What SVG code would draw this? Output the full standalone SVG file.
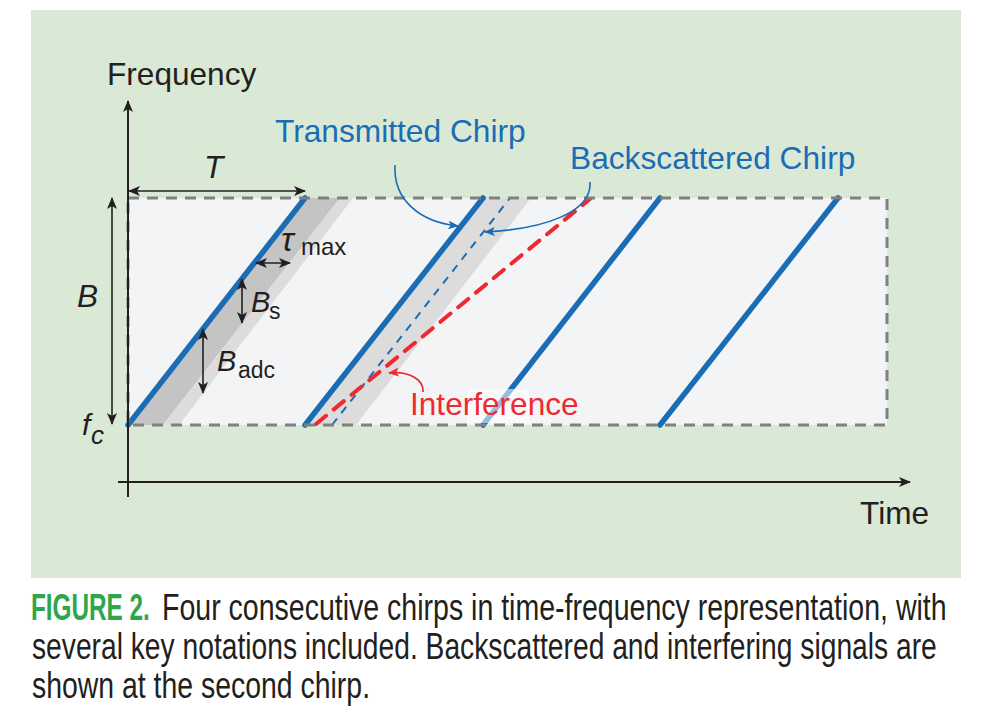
<svg xmlns="http://www.w3.org/2000/svg" width="982" height="716" viewBox="0 0 982 716">
<defs>
<marker id="ak" viewBox="0 0 12 10" refX="11" refY="5" markerWidth="12" markerHeight="10" markerUnits="userSpaceOnUse" orient="auto-start-reverse"><path d="M0,0 L12,5 L0,10 L3,5 z" fill="#231f20"/></marker>
<marker id="ab" viewBox="0 0 12 10" refX="11" refY="5" markerWidth="11" markerHeight="9" markerUnits="userSpaceOnUse" orient="auto"><path d="M0,0 L12,5 L0,10 L3,5 z" fill="#1a6db4"/></marker>
<marker id="ar" viewBox="0 0 12 10" refX="11" refY="5" markerWidth="11" markerHeight="9" markerUnits="userSpaceOnUse" orient="auto"><path d="M0,0 L12,5 L0,10 L3,5 z" fill="#ee2a30"/></marker>
</defs>
<style>
.lbl{font-family:"Liberation Sans",Arial,Helvetica,sans-serif;fill:#231f20}
.it{font-style:italic}
.blue{fill:#1a6db4}
.red{fill:#ee2a30}
.chirp{stroke:#1a6db4;stroke-width:5.5;stroke-linecap:round;fill:none}
.dim{stroke:#231f20;stroke-width:1.6;fill:none;marker-start:url(#ak);marker-end:url(#ak)}
.cap{font-family:"Liberation Sans",Arial,Helvetica,sans-serif;font-size:37px;fill:#231f20}
</style>
<rect x="31" y="10" width="930" height="568" fill="#d9e9d6"/>
<g id="plot-area">
<rect x="128" y="198" width="759" height="227" fill="#f3f4f6"/>
<polygon points="128,425 163,425 340,198 305,198" fill="#c4c4c4"/>
<polygon points="163,425 179,425 353,198 340,198" fill="#dcdcdc"/>
<polygon points="305,425 356,425 531,198 483,198" fill="#dcdcdc"/>
</g>
<g id="signals">
<line id="chirp1" class="chirp" x1="128" y1="425" x2="305" y2="198"/>
<line id="chirp2" class="chirp" x1="305" y1="425" x2="483" y2="198"/>
<line id="chirp3" class="chirp" x1="483" y1="425" x2="660" y2="198"/>
<line id="chirp4" class="chirp" x1="660" y1="425" x2="838" y2="198"/>
<line id="backscattered" x1="332" y1="425" x2="510" y2="198" stroke="#1a6db4" stroke-width="2" stroke-dasharray="8 7"/>
<line id="interference" x1="316" y1="424" x2="590" y2="199" stroke="#ee2a30" stroke-width="4" stroke-dasharray="13 10" stroke-linecap="round"/>
</g>
<rect x="128" y="198" width="759" height="227" fill="none" stroke="#808080" stroke-width="3" stroke-dasharray="11 8"/>
<rect x="467" y="389" width="62" height="34" fill="#ffffff" opacity="0.55"/>
<g id="axes">
<line x1="128" y1="497" x2="128" y2="101" stroke="#231f20" stroke-width="2" marker-end="url(#ak)"/>
<line x1="118" y1="482" x2="910" y2="482" stroke="#231f20" stroke-width="2" marker-end="url(#ak)"/>
<text class="lbl" x="107" y="85" font-size="31.6">Frequency</text>
<text class="lbl" x="860" y="524" font-size="31.6">Time</text>
</g>
<g id="connectors">
<line class="dim" x1="129" y1="191" x2="305" y2="191"/>
<line class="dim" x1="112" y1="198" x2="112" y2="424"/>
<line class="dim" x1="256" y1="263" x2="290" y2="263"/>
<line class="dim" x1="242" y1="279" x2="242" y2="323"/>
<line class="dim" x1="203" y1="329" x2="203" y2="393"/>
<path d="M395,165 C393,200 420,222 458,226" fill="none" stroke="#1a6db4" stroke-width="1.6" marker-end="url(#ab)"/>
<path d="M590,182 C592,212 545,229 485,232" fill="none" stroke="#1a6db4" stroke-width="1.6" marker-end="url(#ab)"/>
<path d="M423,392 C424,380 410,371 389,373" fill="none" stroke="#ee2a30" stroke-width="1.8" marker-end="url(#ar)"/>
</g>
<g id="labels">
<text class="lbl it" x="204" y="178" font-size="31.6">T</text>
<text class="lbl it" x="77" y="307" font-size="31.6">B</text>
<text class="lbl it" x="82" y="435" font-size="30">f</text>
<text class="lbl it" x="91" y="444" font-size="26">c</text>
<text class="lbl it" x="281" y="251" font-size="34">τ</text>
<text class="lbl" x="301" y="255" font-size="24">max</text>
<text class="lbl it" x="251" y="312" font-size="29">B</text>
<text class="lbl" x="269" y="319" font-size="23">s</text>
<text class="lbl it" x="217" y="371" font-size="29">B</text>
<text class="lbl" x="238" y="378" font-size="23">adc</text>
<text class="lbl blue" x="275" y="142" font-size="31.7">Transmitted Chirp</text>
<text class="lbl blue" x="570" y="169" font-size="31.7">Backscattered Chirp</text>
<text class="lbl red" x="410" y="415" font-size="31.6">Interference</text>
</g>
<g id="caption">
<text transform="translate(31,620) scale(0.66,1)" x="0" y="0" font-family="Liberation Sans,Arial,sans-serif" font-weight="bold" font-size="37" fill="#2ea64a" textLength="180" lengthAdjust="spacingAndGlyphs">FIGURE 2.</text>
<text class="cap" transform="translate(162,620) scale(0.77,1)" x="0" y="0" textLength="1019" lengthAdjust="spacingAndGlyphs">Four consecutive chirps in time-frequency representation, with</text>
<text class="cap" transform="translate(32,659) scale(0.77,1)" x="0" y="0" textLength="1175" lengthAdjust="spacingAndGlyphs">several key notations included. Backscattered and interfering signals are</text>
<text class="cap" transform="translate(32,698) scale(0.77,1)" x="0" y="0" textLength="439" lengthAdjust="spacingAndGlyphs">shown at the second chirp.</text>
</g>
</svg>
